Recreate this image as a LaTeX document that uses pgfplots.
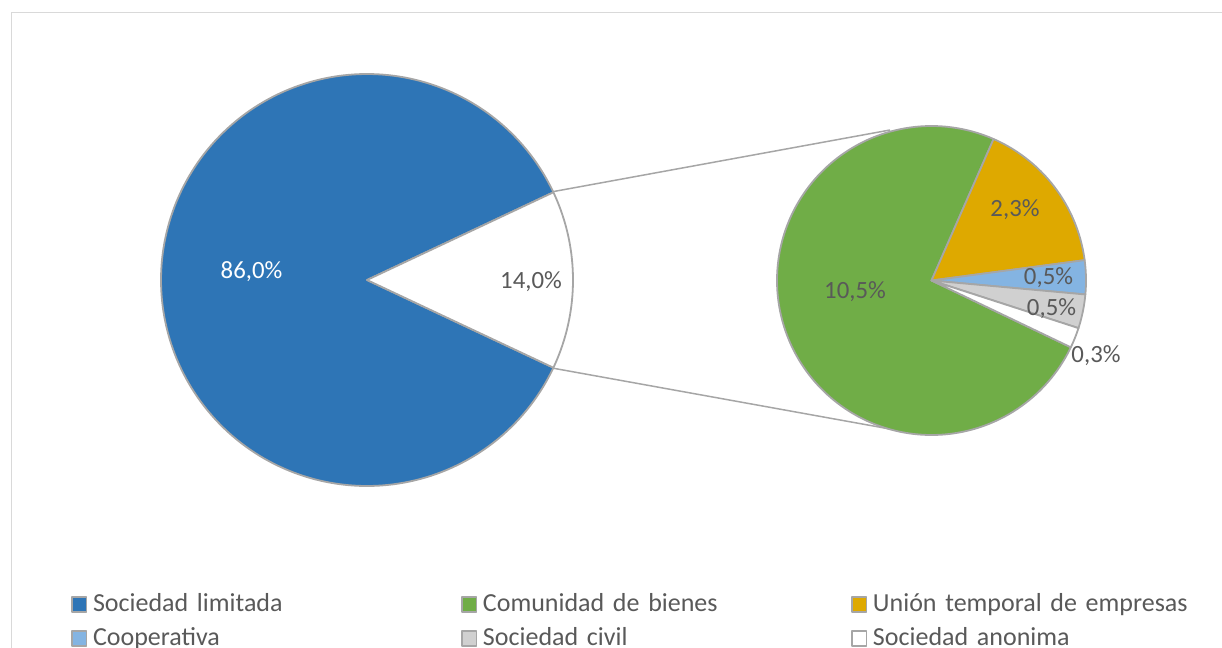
\documentclass[border=0pt]{standalone}
\usepackage{pgfplots}
\pgfplotsset{compat=1.18}
\usepackage{fontspec}
\setmainfont{Carlito}
\definecolor{cBlue}{HTML}{2E75B6}
\definecolor{cGreen}{HTML}{70AD47}
\definecolor{cGold}{HTML}{DEA900}
\definecolor{cLBlue}{HTML}{84B4E2}
\definecolor{cLGray}{HTML}{D0D0D0}
\definecolor{cEdge}{HTML}{A6A6A6}
\definecolor{cText}{HTML}{595959}
\definecolor{cFrame}{HTML}{D9D9D9}
% data (percent of total)
\def\vLimitada{86.0}
\def\vOtros{14.0}
\def\vComunidad{10.5}
\def\vUnion{2.3}
\def\vCooperativa{0.5}
\def\vCivil{0.5}
\def\vAnonima{0.3}
\begin{document}
\begin{tikzpicture}
\pgfmathsetmacro\half{180*\vOtros/(\vLimitada+\vOtros)}
\pgfmathsetmacro\halfB{360-\half}
\pgfmathsetmacro\halfN{-\half}
\pgfmathsetmacro\S{\vComunidad+\vUnion+\vCooperativa+\vCivil+\vAnonima}
\pgfmathsetmacro\aA{66.3}
\pgfmathsetmacro\aB{\aA-360*\vUnion/\S}
\pgfmathsetmacro\aC{\aB-360*\vCooperativa/\S}
\pgfmathsetmacro\aD{\aC-360*\vCivil/\S}
\pgfmathsetmacro\aE{\aD-360*\vAnonima/\S}
\pgfmathsetmacro\aF{\aA-360}
\begin{axis}[at={(0,0)}, anchor=south west, scale only axis,
  width=611pt, height=324pt,
  xmin=0, xmax=1222, ymin=0, ymax=648, y dir=reverse,
  hide axis, clip=false,
  legend columns=3, legend cell align=left,
  legend image code/.code={\draw[#1,line width=0.8pt] (0pt,-3.6pt) rectangle (7.4pt,3.8pt);},
  legend style={at={(axis cs:71,592.2)}, anchor=north west, draw=none, fill=none,
    inner sep=0pt, outer sep=0pt, row sep=4.5pt,
    font=\fontsize{13}{15.6}\selectfont, text=cText,
    nodes={inner sep=0pt, text width=184pt, align=left, text height=9.5pt, text depth=3pt},
    /tikz/every odd column/.append style={column sep=2.8pt}},
  every axis plot/.append style={draw=cEdge, line width=0.9pt, line join=round, variable=\t},
]
% frame
\draw[cFrame, line width=0.8pt] (axis cs:11.5,700) -- (axis cs:11.5,12.5) -- (axis cs:1240,12.5);
% connector lines
\addplot[forget plot, mark=none, line width=0.75pt] coordinates {(551,192) (890,130)};
\addplot[forget plot, mark=none, line width=0.75pt] coordinates {(552,368) (890,429)};
% big pie
\addplot[fill=cBlue, domain=\half:\halfB, samples=200] ({367+206*cos(\t)},{280-206*sin(\t)}) -- (axis cs:367,280) -- cycle;
\addlegendentry{Sociedad limitada}
\addplot[forget plot, fill=white, domain=\halfN:\half, samples=40] ({367+206*cos(\t)},{280-206*sin(\t)}) -- (axis cs:367,280) -- cycle;
% small pie
\addplot[fill=cGreen, domain=\aF:\aE, samples=200] ({931.5+154.5*cos(\t)},{280.5-154.5*sin(\t)}) -- (axis cs:931.5,280.5) -- cycle;
\addlegendentry{Comunidad de bienes}
\addplot[fill=cGold, domain=\aB:\aA, samples=50] ({931.5+154.5*cos(\t)},{280.5-154.5*sin(\t)}) -- (axis cs:931.5,280.5) -- cycle;
\addlegendentry{Unión temporal de empresas}
\addplot[fill=cLBlue, domain=\aC:\aB, samples=20] ({931.5+154.5*cos(\t)},{280.5-154.5*sin(\t)}) -- (axis cs:931.5,280.5) -- cycle;
\addlegendentry{Cooperativa}
\addplot[fill=cLGray, domain=\aD:\aC, samples=20] ({931.5+154.5*cos(\t)},{280.5-154.5*sin(\t)}) -- (axis cs:931.5,280.5) -- cycle;
\addlegendentry{Sociedad civil}
\addplot[fill=white, domain=\aE:\aD, samples=20] ({931.5+154.5*cos(\t)},{280.5-154.5*sin(\t)}) -- (axis cs:931.5,280.5) -- cycle;
\addlegendentry{Sociedad anonima}
% data labels
\begin{scope}[every node/.style={font=\fontsize{12.4}{14}\selectfont, text=cText, inner sep=0pt}]
\node[text=white] at (axis cs:251.5,272) {86,0\%};
\node at (axis cs:531,282) {14,0\%};
\node at (axis cs:855,292) {10,5\%};
\node at (axis cs:1015,210) {2,3\%};
\node at (axis cs:1048.5,278) {0,5\%};
\node at (axis cs:1051.5,309) {0,5\%};
\node at (axis cs:1096,355.5) {0,3\%};
\end{scope}
\end{axis}
\pgfresetboundingbox
\path[use as bounding box] (0,0) rectangle (611pt,324pt);
\end{tikzpicture}
\end{document}
